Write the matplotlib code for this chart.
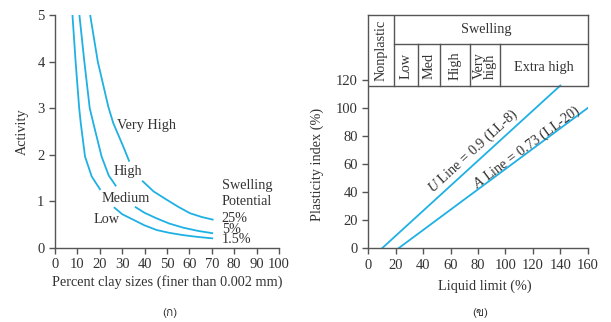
import matplotlib
matplotlib.use("Agg")
import matplotlib.pyplot as plt
from matplotlib import font_manager, ft2font

plt.rcParams['font.family'] = ['Liberation Serif', 'DejaVu Serif']
plt.rcParams['mathtext.fontset'] = 'custom'
plt.rcParams['mathtext.rm'] = 'Liberation Serif'
plt.rcParams['mathtext.it'] = 'Liberation Serif:italic'

CYAN = '#1fb0e4'
GREY = '#555555'
TXT = '#333333'

# (a) activity vs clay fraction, each curve broken where a label sits
clay_15_a = [7.8, 9.2, 10.8, 11.5, 13.4, 16.4, 20.3]
act_15_a = [5.0, 4.0, 3.0, 2.68, 1.96, 1.53, 1.24]
clay_15_b = [26.3, 30.0, 35.0, 40.0, 45.4, 51.0, 57.3, 64.0, 70.6]
act_15_b = [0.87, 0.72, 0.60, 0.48, 0.38, 0.32, 0.27, 0.23, 0.20]

clay_5_a = [10.9, 13.1, 15.5, 17.1, 20.8, 24.0, 27.3]
act_5_a = [5.0, 4.0, 3.0, 2.68, 1.96, 1.55, 1.32]
clay_5_b = [35.7, 40.0, 45.4, 51.0, 57.3, 64.0, 70.6]
act_5_b = [0.88, 0.75, 0.63, 0.52, 0.43, 0.36, 0.31]

clay_25_a = [15.7, 19.1, 23.8, 26.0, 30.5, 33.2]
act_25_a = [5.0, 4.0, 3.03, 2.68, 2.17, 1.85]
clay_25_b = [38.9, 44.0, 49.9, 55.0, 60.3, 65.5, 70.8]
act_25_b = [1.44, 1.21, 1.03, 0.88, 0.74, 0.66, 0.60]

# (b) plasticity chart lines, end points
u_ll = [10, 140]
u_pi = [0, 116]
a_ll = [22, 160]
a_pi = [0, 100]

# swelling table column edges (liquid limit) and rows (plasticity index)
table_x = [0, 19, 36, 52, 74, 96, 160]
table_bottom, table_mid, table_top = 116, 145.5, 166.3


def find_family(ch):
    # look for an installed font that actually has this glyph
    for f in font_manager.fontManager.ttflist:
        try:
            if ord(ch) in ft2font.FT2Font(f.fname).get_charmap():
                return f.name
        except Exception:
            continue
    return None


fig = plt.figure(figsize=(6.11, 3.22), dpi=100)

def style_axes(ax):
    for s in ['top', 'right']:
        ax.spines[s].set_visible(False)
    for s in ['left', 'bottom']:
        ax.spines[s].set_color(GREY)
        ax.spines[s].set_linewidth(1.0)
    ax.tick_params(direction='out', length=4.5, width=1.0, color=GREY,
                   labelsize=10.5, labelcolor=TXT, pad=3)

fs = 10.3

# ---- left chart ----
ax1 = fig.add_axes([0.090, 0.2307, 0.3666, 0.7227])
style_axes(ax1)
ax1.set_xlim(0, 100)
ax1.set_ylim(0, 5)
ax1.set_xticks(range(0, 101, 10))
ax1.set_yticks(range(0, 6))
for xs, ys in [(clay_15_a, act_15_a), (clay_15_b, act_15_b),
               (clay_5_a, act_5_a), (clay_5_b, act_5_b),
               (clay_25_a, act_25_a), (clay_25_b, act_25_b)]:
    ax1.plot(xs, ys, color=CYAN, lw=1.3, solid_capstyle='butt', clip_on=False)

ax1.text(27.5, 2.62, 'Very High', fontsize=fs, color=TXT, va='center')
ax1.text(26.0, 1.63, 'High', fontsize=fs, color=TXT, va='center')
ax1.text(20.8, 1.05, 'Medium', fontsize=fs, color=TXT, va='center')
ax1.text(17.1, 0.60, 'Low', fontsize=fs, color=TXT, va='center')
ax1.text(74.4, 1.17, 'Swelling\nPotential', fontsize=fs, color=TXT,
         va='center', linespacing=1.25)
ax1.text(74.4, 0.40, '25%\n5%\n1.5%', fontsize=fs, color=TXT,
         va='center', linespacing=0.78)
ax1.set_xlabel('Percent clay sizes (finer than 0.002 mm)', fontsize=fs,
               color=TXT, labelpad=3)
ax1.set_ylabel('Activity', fontsize=fs, color=TXT, labelpad=6)

# ---- right chart ----
ax2 = fig.add_axes([0.6028, 0.2289, 0.3591, 0.7245])
style_axes(ax2)
ax2.set_xlim(0, 160)
ax2.set_ylim(0, table_top)
ax2.set_xticks(range(0, 161, 20))
ax2.set_yticks(range(0, 121, 20))
ax2.plot(u_ll, u_pi, color=CYAN, lw=1.3)
ax2.plot(a_ll, a_pi, color=CYAN, lw=1.3)

# table lines
ax2.plot([table_x[0], table_x[-1]], [table_bottom, table_bottom], color=GREY, lw=1.0)
ax2.plot([table_x[0], table_x[-1]], [table_top, table_top], color=GREY, lw=1.0, clip_on=False)
ax2.plot([table_x[1], table_x[-1]], [table_mid, table_mid], color=GREY, lw=1.0)
ax2.plot([table_x[1], table_x[1]], [table_bottom, table_top], color=GREY, lw=1.0)
ax2.plot([table_x[-1], table_x[-1]], [table_bottom, table_top], color=GREY, lw=1.0, clip_on=False)
for xv in table_x[2:-1]:
    ax2.plot([xv, xv], [table_bottom, table_mid], color=GREY, lw=1.0)

ax2.text(9.5, 141, 'Nonplastic', rotation=90, fontsize=fs, color=TXT,
         ha='center', va='center')
ax2.text(86, 156, 'Swelling', fontsize=fs, color=TXT, ha='center', va='center')
ax2.text(27.5, 130, 'Low', rotation=90, fontsize=fs, color=TXT, ha='center', va='center')
ax2.text(44, 130, 'Med', rotation=90, fontsize=fs, color=TXT, ha='center', va='center')
ax2.text(63, 130, 'High', rotation=90, fontsize=fs, color=TXT, ha='center', va='center')
ax2.text(85, 130, 'Very\nhigh', rotation=90, fontsize=fs, color=TXT,
         ha='center', va='center', linespacing=0.75)
ax2.text(128, 129, 'Extra high', fontsize=fs, color=TXT, ha='center', va='center')

ax2.text(76.6, 69.5, '$U$ Line = 0.9 (LL-8)', rotation=42.4, fontsize=fs,
         color=TXT, ha='center', va='center', rotation_mode='anchor')
ax2.text(115.5, 71.8, '$A$ Line = 0.73 (LL-20)', rotation=36.5, fontsize=fs,
         color=TXT, ha='center', va='center', rotation_mode='anchor')

ax2.set_xlabel('Liquid limit (%)', fontsize=fs, color=TXT)
ax2.xaxis.set_label_coords(0.53, -0.135)
ax2.set_ylabel('Plasticity index (%)', fontsize=fs, color=TXT)
ax2.yaxis.set_label_coords(-0.20, 60 / table_top)

# sub-figure captions (Thai letters need a font that has them)
thai = ['DejaVu Sans']
found = find_family('ก')
if found:
    thai = [found] + thai
fig.text(170 / 611, 1 - 313 / 322, '(ก)', fontsize=8.5, color=TXT, family=thai,
         ha='center', va='center')
fig.text(480 / 611, 1 - 313 / 322, '(ข)', fontsize=8.5, color=TXT, family=thai,
         ha='center', va='center')

fig.savefig('out.png', dpi=100)
